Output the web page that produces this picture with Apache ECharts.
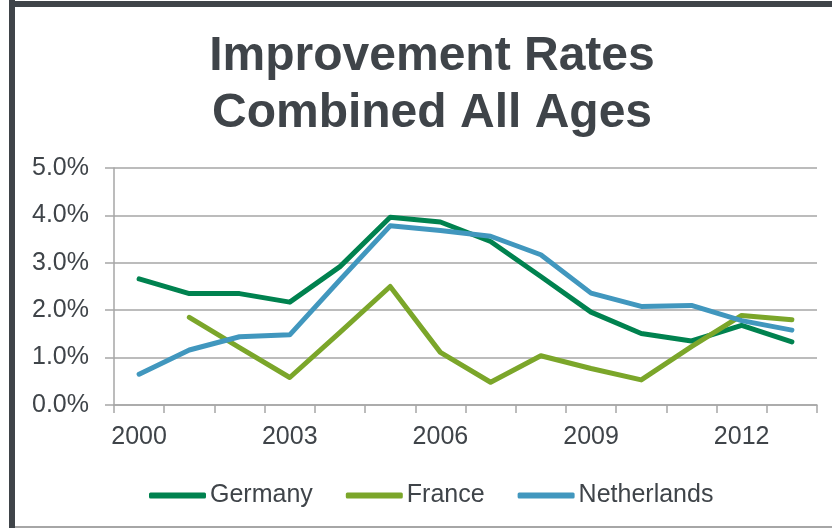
<!DOCTYPE html>
<html>
<head>
<meta charset="utf-8">
<script src="https://cdn.jsdelivr.net/npm/echarts@6/dist/echarts.min.js"></script>
<style>
html,body{margin:0;padding:0;background:#fff;}
#c{width:832px;height:528px;}
</style>
</head>
<body>
<div id="c"></div>
<script>
const years = ['2000','2001','2002','2003','2004','2005','2006','2007','2008','2009','2010','2011','2012','2013'];
const germany = [2.66, 2.35, 2.35, 2.17, 2.92, 3.96, 3.86, 3.45, 2.71, 1.96, 1.51, 1.35, 1.68, 1.33];
const france = [null, 1.85, 1.21, 0.58, 1.53, 2.50, 1.11, 0.48, 1.04, 0.77, 0.53, 1.23, 1.89, 1.80];
const netherlands = [0.65, 1.16, 1.44, 1.48, 2.64, 3.78, 3.68, 3.56, 3.17, 2.36, 2.08, 2.10, 1.78, 1.58];
const yTicks = [0, 1, 2, 3, 4, 5];

const textColor = '#3F4449';
const gridColor = '#A6A6A6';
const font = 'Liberation Sans, Arial, sans-serif';

const chart = echarts.init(document.getElementById('c'));
function mk(name, data, color) {
  return {
    name: name, type: 'line', data: data, color: color,
    symbol: 'none', smooth: false, connectNulls: false,
    lineStyle: { width: 5, color: color, cap: 'round', join: 'round' },
    itemStyle: { color: color }
  };
}
chart.setOption({
  animation: false,
  title: {
    text: 'Improvement Rates\nCombined All Ages',
    left: 427, top: 23, textAlign: 'center',
    textStyle: { fontFamily: font, fontSize: 48, fontWeight: 'bold', color: textColor, lineHeight: 57 }
  },
  graphic: [
    { type: 'rect', shape: { x: 9, y: 0, width: 6, height: 528 }, style: { fill: '#3F4449' }, z: 10 },
    { type: 'rect', shape: { x: 9, y: 1, width: 823, height: 6 }, style: { fill: '#3F4449' }, z: 10 },
    { type: 'rect', shape: { x: 15, y: 526, width: 817, height: 2 }, style: { fill: '#A6A6A6' }, z: 10 }
  ],
  legend: {
    data: ['Germany', 'France', 'Netherlands'],
    left: 144, top: 478,
    orient: 'horizontal',
    icon: 'roundRect', itemWidth: 57, itemHeight: 6, itemGap: 33,
    textStyle: { fontFamily: font, fontSize: 25, color: textColor, padding: [0,0,0,-1] }
  },
  grid: { left: 114, right: 15, top: 168, bottom: 123, containLabel: false },
  xAxis: {
    type: 'category', data: years, boundaryGap: true,
    axisLine: { lineStyle: { color: gridColor, width: 1.5 } },
    axisTick: { show: true, interval: 0, length: 8, lineStyle: { color: gridColor, width: 1.5 } },
    axisLabel: { interval: 2, margin: 20, fontFamily: font, fontSize: 25, color: textColor },
    splitLine: { show: false }
  },
  yAxis: {
    type: 'value', min: 0, max: 5, interval: 1,
    axisLine: { show: true, lineStyle: { color: gridColor, width: 1.5 } },
    axisTick: { show: true, length: 9, lineStyle: { color: gridColor, width: 1.5 } },
    axisLabel: { margin: 25, fontFamily: font, fontSize: 25, color: textColor,
      formatter: v => v.toFixed(1) + '%' },
    splitLine: { show: true, lineStyle: { color: gridColor, width: 1.5 } }
  },
  series: [
    mk('Germany', germany, '#00824F'),
    mk('France', france, '#7BA62A'),
    mk('Netherlands', netherlands, '#4197BE')
  ]
});
</script>
</body>
</html>
